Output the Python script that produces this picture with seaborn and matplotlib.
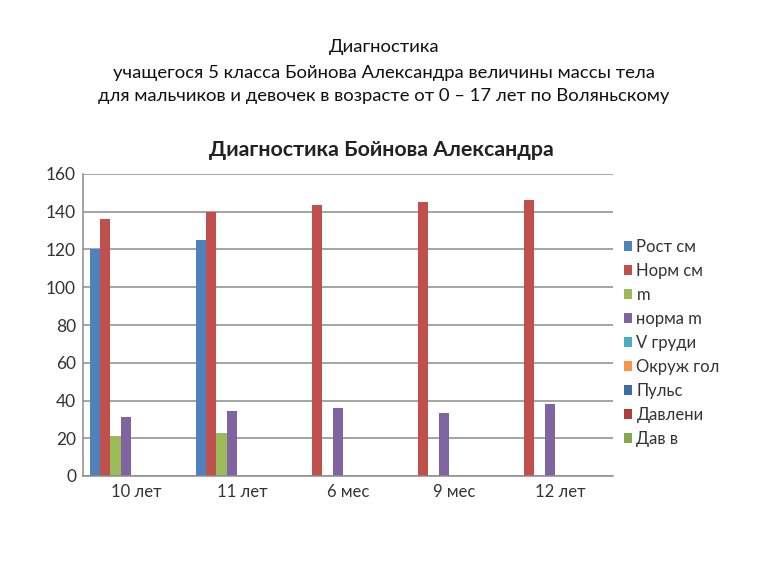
import matplotlib
matplotlib.use("Agg")
import matplotlib.pyplot as plt
import seaborn as sns
import pandas as pd
from matplotlib.patches import Patch

categories = ["10 лет", "11 лет", "6 мес", "9 мес", "12 лет"]
series = ["Рост см", "Норм см", "m", "норма m", "V груди", "Окруж гол", "Пульс", "Давлени", "Дав в"]
rost = [120, 125, 0, 0, 0]
norm_sm = [136, 140, 143.5, 145, 146]
m_vals = [21, 23, 0, 0, 0]
norma_m = [31, 34.5, 36, 33.5, 38]
v_grudi = [0, 0, 0, 0, 0]
okruzh = [0, 0, 0, 0, 0]
puls = [0, 0, 0, 0, 0]
davl = [0, 0, 0, 0, 0]
dav_v = [0, 0, 0, 0, 0]
values = [rost, norm_sm, m_vals, norma_m, v_grudi, okruzh, puls, davl, dav_v]
colors = ["#4F81BD", "#C0504D", "#9BBB59", "#8064A2", "#4BACC6", "#F79646",
          "#3D6CA8", "#B03E3B", "#86A84A"]

rows = []
for s, vals in zip(series, values):
    for c, v in zip(categories, vals):
        rows.append({"cat": c, "series": s, "value": v})
df = pd.DataFrame(rows)

sns.set_theme(style="white")
plt.rcParams["font.family"] = ["Lato", "DejaVu Sans"]

fig = plt.figure(figsize=(7.68, 5.76), dpi=100)
ax = fig.add_axes([83 / 768, 1 - 476 / 576, 530 / 768, 302 / 576])

sns.barplot(data=df, x="cat", y="value", hue="series", order=categories,
            hue_order=series, palette=colors, width=0.875, linewidth=0,
            saturation=1, ax=ax, legend=False)

ax.set_xlim(-0.5, 4.5)
ax.set_ylim(0, 160)
ax.set_yticks(range(0, 161, 20))
ax.yaxis.grid(True, color="#8c8c8c", linewidth=1.1)
ax.set_axisbelow(True)
for side in ["top", "right"]:
    ax.spines[side].set_visible(False)
ax.spines["left"].set_color("#8c8c8c")
ax.spines["bottom"].set_color("#8c8c8c")
ax.spines["left"].set_linewidth(1.1)
ax.spines["bottom"].set_linewidth(1.1)
ax.set_xlabel("")
ax.set_ylabel("")
ax.tick_params(axis="y", labelsize=12.5, colors="#333333", length=0, pad=5)
ax.tick_params(axis="x", labelsize=12, colors="#333333", length=0, pad=6)

handles = [Patch(facecolor=c, edgecolor="none") for c in colors]
fig.legend(handles, series, loc="upper left", bbox_to_anchor=(624 / 768, 1 - 239 / 576),
           frameon=False, fontsize=12, handlelength=0.5, handleheight=0.5,
           handletextpad=0.25, labelspacing=0.48, borderaxespad=0, borderpad=0,
           labelcolor="#333333")

fig.text(0.5, 1 - 47 / 576, "Диагностика", ha="center", va="center", fontsize=13.3, color="#111111")
fig.text(0.5, 1 - 73 / 576, "учащегося 5 класса Бойнова Александра величины массы тела",
         ha="center", va="center", fontsize=13.3, color="#111111")
fig.text(0.5, 1 - 96 / 576, "для мальчиков и девочек в возрасте от 0 – 17 лет по Воляньскому",
         ha="center", va="center", fontsize=13.3, color="#111111")
fig.text(381 / 768, 1 - 150 / 576, "Диагностика Бойнова Александра", ha="center", va="center",
         fontsize=15.4, fontweight="bold", color="#222222")

fig.savefig("out.png", dpi=100)
